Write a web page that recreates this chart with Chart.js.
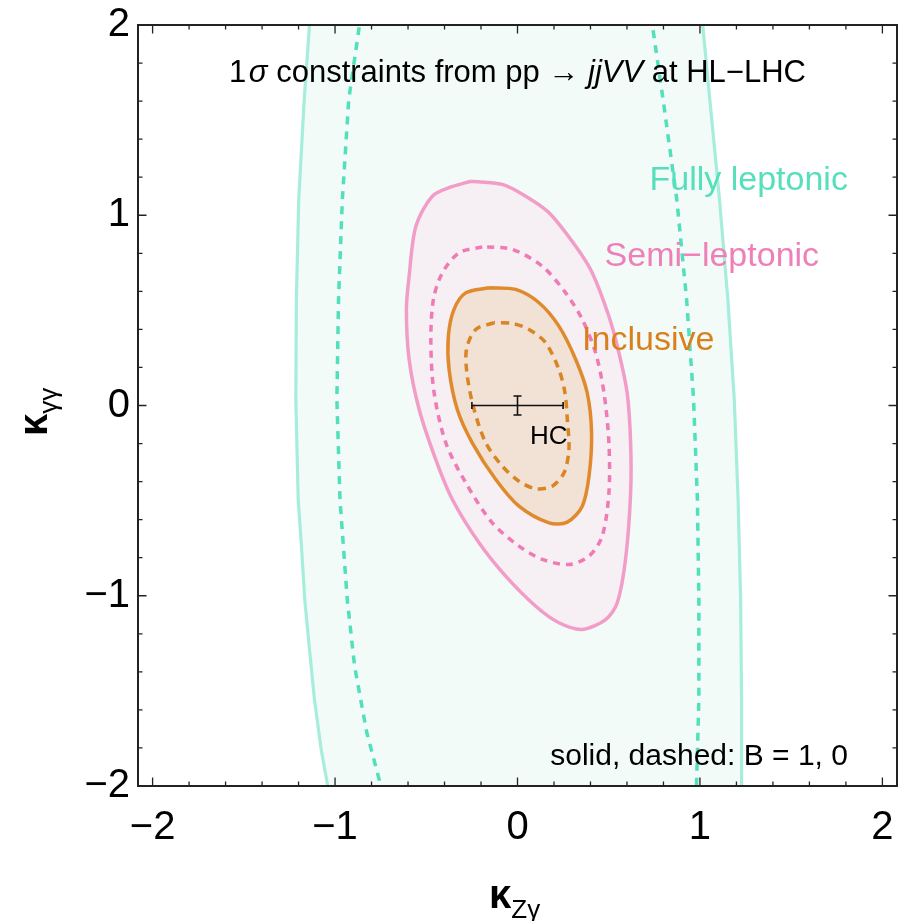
<!DOCTYPE html>
<html>
<head>
<meta charset="utf-8">
<script src="https://cdn.jsdelivr.net/npm/chart.js@4.4.1/dist/chart.umd.min.js"></script>
<style>
  html, body { margin: 0; padding: 0; background: #fff; }
</style>
</head>
<body>
<canvas id="chart" width="900" height="921"></canvas>
<script>
// axis ranges and tick labels
const xRange = [-2.08, 2.08]
const yRange = [-2, 2]
const xTicks = [-2, -1, 0, 1, 2]
const yTicks = [-2, -1, 0, 1, 2]

// 1 sigma contours, [kZg, kgg] pairs
// fully leptonic, solid (B = 1): left edge going up, right edge going down
const fullySolid = [
  [-1.02, -2.1], [-1.04, -2.0], [-1.076, -1.808], [-1.113, -1.545], [-1.14, -1.283],
  [-1.166, -1.02], [-1.183, -0.757], [-1.202, -0.494], [-1.215, 0.032], [-1.212, 0.557],
  [-1.199, 1.083], [-1.169, 1.608], [-1.14, 2.0], [-1.132, 2.1],
  [0.995, 2.1], [1.015, 2.0], [1.054, 1.608], [1.107, 1.083], [1.153, 0.557],
  [1.188, 0.032], [1.209, -0.494], [1.223, -1.02], [1.228, -1.545], [1.228, -2.0],
  [1.228, -2.1], [-1.02, -2.1]
]
// fully leptonic, dashed (B = 0)
const fullyDashedLeft = [
  [-0.745, -2.05], [-0.758, -1.966], [-0.826, -1.72], [-0.893, -1.37], [-0.933, -1.02],
  [-0.973, -0.494], [-0.99, 0.032], [-0.981, 0.557], [-0.96, 1.083], [-0.925, 1.608],
  [-0.866, 2.0], [-0.855, 2.05]
]
const fullyDashedRight = [
  [0.73, 2.05], [0.739, 2.0], [0.798, 1.608], [0.873, 1.083], [0.927, 0.557],
  [0.965, 0.032], [0.986, -0.494], [0.994, -1.02], [0.994, -1.545], [0.981, -2.0],
  [0.98, -2.05]
]
const semiSolid = [
  [-0.256, 1.179], [-0.36, 1.15], [-0.467, 1.10], [-0.557, 0.942], [-0.594, 0.68],
  [-0.609, 0.505], [-0.594, 0.242], [-0.539, -0.021], [-0.448, -0.284], [-0.357, -0.494],
  [-0.211, -0.722], [-0.065, -0.897], [0.10, -1.055], [0.227, -1.142], [0.355, -1.177],
  [0.483, -1.125], [0.547, -1.037], [0.592, -0.81], [0.62, -0.459], [0.62, -0.196],
  [0.601, 0.067], [0.556, 0.277], [0.501, 0.469], [0.41, 0.697], [0.319, 0.837],
  [0.173, 1.013], [0.045, 1.10], [-0.083, 1.162], [-0.256, 1.179]
]
const semiDashed = [
  [-0.193, 0.834], [-0.32, 0.803], [-0.412, 0.697], [-0.461, 0.557], [-0.475, 0.33],
  [-0.457, 0.067], [-0.393, -0.196], [-0.284, -0.406], [-0.138, -0.617], [0.008, -0.739],
  [0.136, -0.809], [0.282, -0.836], [0.392, -0.792], [0.464, -0.687], [0.501, -0.459],
  [0.501, -0.196], [0.474, 0.067], [0.428, 0.277], [0.355, 0.452], [0.264, 0.592],
  [0.136, 0.732], [-0.028, 0.82], [-0.193, 0.834]
]
const inclSolid = [
  [-0.156, 0.619], [-0.284, 0.592], [-0.348, 0.505], [-0.379, 0.364], [-0.375, 0.189],
  [-0.33, -0.021], [-0.248, -0.196], [-0.119, -0.389], [0.008, -0.529], [0.173, -0.617],
  [0.273, -0.613], [0.355, -0.529], [0.392, -0.371], [0.406, -0.144], [0.382, 0.067],
  [0.319, 0.242], [0.227, 0.417], [0.118, 0.54], [-0.01, 0.61], [-0.156, 0.619]
]
const inclDashed = [
  [-0.129, 0.435], [-0.229, 0.40], [-0.28, 0.294], [-0.275, 0.154], [-0.238, -0.021],
  [-0.174, -0.196], [-0.083, -0.319], [0.008, -0.398], [0.10, -0.438], [0.19, -0.424],
  [0.255, -0.354], [0.282, -0.231], [0.273, -0.074], [0.26, 0.067], [0.227, 0.189],
  [0.154, 0.33], [0.063, 0.40], [-0.028, 0.431], [-0.129, 0.435]
]

// HC point with its error bars
const hcPoint = [0, 0]
const hcErr = [0.25, 0.05]

const FONT = '"Liberation Sans", Arial, Helvetica, sans-serif'
const teal = '#55dfbb'
const pink = '#ef7fb8'
const orange = '#d9801c'

const pts = (arr) => arr.map(([x, y]) => ({ x, y }))
const fmt = (v) => (v < 0 ? '\u2212' + Math.abs(v) : String(v))

function contour(data, color, opts) {
  return Object.assign({
    data: pts(data),
    borderColor: color,
    borderWidth: 3,
    pointRadius: 0,
    fill: false,
    tension: 0.3
  }, opts)
}

const datasets = [
  contour(fullySolid, '#a6eedb', { fill: 'shape', backgroundColor: '#f3fbf9', tension: 0, borderWidth: 3.2, order: 9 }),
  contour(fullyDashedLeft, '#52dfbb', { borderDash: [8, 7], borderWidth: 3.5, tension: 0, order: 8 }),
  contour(fullyDashedRight, '#52dfbb', { borderDash: [8, 7], borderWidth: 3.5, tension: 0, order: 7 }),
  contour(semiSolid, '#f29dc8', { fill: 'shape', backgroundColor: '#f6eff4', borderWidth: 3.5, order: 6 }),
  contour(semiDashed, '#f07ab5', { borderDash: [7, 6], borderWidth: 3.5, order: 5 }),
  contour(inclSolid, '#e08a2e', { fill: 'shape', backgroundColor: '#f2e1d5', borderWidth: 3.5, order: 4 }),
  contour(inclDashed, '#da8424', { borderDash: [8, 6], borderWidth: 3.5, order: 3 })
]

// draws runs of text with mixed fonts on one baseline
function drawRuns(ctx, runs, x, y, align) {
  let total = 0
  runs.forEach((r) => { ctx.font = r.font; r.w = ctx.measureText(r.text).width; total += r.w })
  let cx = align === 'center' ? x - total / 2 : align === 'right' ? x - total : x
  ctx.textAlign = 'left'
  ctx.textBaseline = 'alphabetic'
  runs.forEach((r) => {
    ctx.font = r.font
    ctx.fillStyle = r.color || '#000'
    ctx.fillText(r.text, cx, y + (r.dy || 0))
    cx += r.w
  })
}

const decor = {
  id: 'decor',
  afterDatasetsDraw(chart) {
    const { ctx, scales: { x, y } } = chart
    ctx.save()
    // HC error bars
    const px = x.getPixelForValue(hcPoint[0])
    const py = y.getPixelForValue(hcPoint[1])
    const x0 = x.getPixelForValue(hcPoint[0] - hcErr[0])
    const x1 = x.getPixelForValue(hcPoint[0] + hcErr[0])
    const y0 = y.getPixelForValue(hcPoint[1] - hcErr[1])
    const y1 = y.getPixelForValue(hcPoint[1] + hcErr[1])
    ctx.strokeStyle = '#111'
    ctx.lineWidth = 1.6
    ctx.beginPath()
    ctx.moveTo(x0, py); ctx.lineTo(x1, py)
    ctx.moveTo(x0, py - 3.5); ctx.lineTo(x0, py + 3.5)
    ctx.moveTo(x1, py - 3.5); ctx.lineTo(x1, py + 3.5)
    ctx.moveTo(px, y0); ctx.lineTo(px, y1)
    ctx.moveTo(px - 4, y0); ctx.lineTo(px + 4, y0)
    ctx.moveTo(px - 4, y1); ctx.lineTo(px + 4, y1)
    ctx.stroke()

    const reg = (s) => s + 'px ' + FONT
    const ita = (s) => 'italic ' + s + 'px ' + FONT
    drawRuns(ctx, [
      { text: '1\u200a', font: reg(31) },
      { text: '\u03c3', font: ita(31) },
      { text: ' constraints from pp \u2192 ', font: reg(31) },
      { text: 'jjVV', font: ita(31) },
      { text: ' at HL\u2212LHC', font: reg(31) }
    ], x.getPixelForValue(0), y.getPixelForValue(1.703), 'center')

    drawRuns(ctx, [{ text: 'Fully leptonic', font: reg(34), color: teal }],
      x.getPixelForValue(1.811), y.getPixelForValue(1.135), 'right')
    drawRuns(ctx, [{ text: 'Semi\u2212leptonic', font: reg(34), color: pink }],
      x.getPixelForValue(1.653), y.getPixelForValue(0.732), 'right')
    drawRuns(ctx, [{ text: 'Inclusive', font: reg(34), color: orange }],
      x.getPixelForValue(0.354), y.getPixelForValue(0.294), 'left')
    drawRuns(ctx, [{ text: 'HC', font: reg(26) }],
      x.getPixelForValue(0.068), y.getPixelForValue(-0.2), 'left')
    drawRuns(ctx, [{ text: 'solid, dashed: B = 1, 0', font: reg(30) }],
      x.getPixelForValue(1.811), y.getPixelForValue(-1.887), 'right')
    ctx.restore()
  },
  afterDraw(chart) {
    const { ctx, chartArea: a, scales: { x, y } } = chart
    ctx.save()
    // inward ticks on all four sides
    ctx.strokeStyle = '#222'
    ctx.lineWidth = 1.3
    ctx.beginPath()
    for (let i = -10; i <= 10; i++) {
      const v = i / 5
      const major = i % 5 === 0
      const len = major ? 8.5 : 4.5
      const tx = x.getPixelForValue(v)
      ctx.moveTo(tx, a.bottom); ctx.lineTo(tx, a.bottom - len)
      ctx.moveTo(tx, a.top); ctx.lineTo(tx, a.top + len)
      const ty = y.getPixelForValue(v)
      ctx.moveTo(a.left, ty); ctx.lineTo(a.left + len, ty)
      ctx.moveTo(a.right, ty); ctx.lineTo(a.right - len, ty)
    }
    ctx.stroke()
    // frame
    ctx.lineWidth = 2
    ctx.strokeRect(a.left, a.top, a.right - a.left, a.bottom - a.top)

    // axis titles
    const kFont = 'bold 40px ' + FONT
    const sFont = '26px ' + FONT
    drawRuns(ctx, [
      { text: '\u03ba', font: kFont },
      { text: 'Z\u03b3', font: sFont, dy: 10 }
    ], 489, 908, 'left')
    ctx.translate(47, 436)
    ctx.rotate(-Math.PI / 2)
    drawRuns(ctx, [
      { text: '\u03ba', font: kFont },
      { text: '\u03b3\u03b3', font: sFont, dy: 10 }
    ], 0, 0, 'left')
    ctx.restore()
  }
}

new Chart(document.getElementById('chart'), {
  type: 'line',
  data: { datasets },
  options: {
    responsive: false,
    animation: false,
    layout: { padding: { top: 25, right: 3, left: 0, bottom: 0 } },
    elements: { line: { capBezierPoints: false } },
    plugins: {
      legend: { display: false },
      tooltip: { enabled: false },
      filler: { drawTime: 'beforeDatasetDraw' }
    },
    scales: {
      x: {
        type: 'linear',
        min: xRange[0],
        max: xRange[1],
        afterBuildTicks: (s) => { s.ticks = xTicks.map((v) => ({ value: v })) },
        afterFit: (s) => { s.height = 135; s.paddingLeft = 0; s.paddingRight = 0 },
        grid: { display: false, drawTicks: false },
        border: { display: false },
        ticks: {
          autoSkip: false, maxRotation: 0, padding: 18, color: '#000',
          font: { family: FONT, size: 40 },
          callback: (v) => fmt(v)
        }
      },
      y: {
        type: 'linear',
        min: yRange[0],
        max: yRange[1],
        afterBuildTicks: (s) => { s.ticks = yTicks.map((v) => ({ value: v })) },
        afterFit: (s) => { s.width = 138; s.paddingTop = 0; s.paddingBottom = 0 },
        grid: { display: false, drawTicks: false },
        border: { display: false },
        ticks: {
          autoSkip: false, padding: 8, color: '#000',
          font: { family: FONT, size: 40 },
          callback: (v) => fmt(v)
        }
      }
    }
  },
  plugins: [decor]
})
</script>
</body>
</html>
